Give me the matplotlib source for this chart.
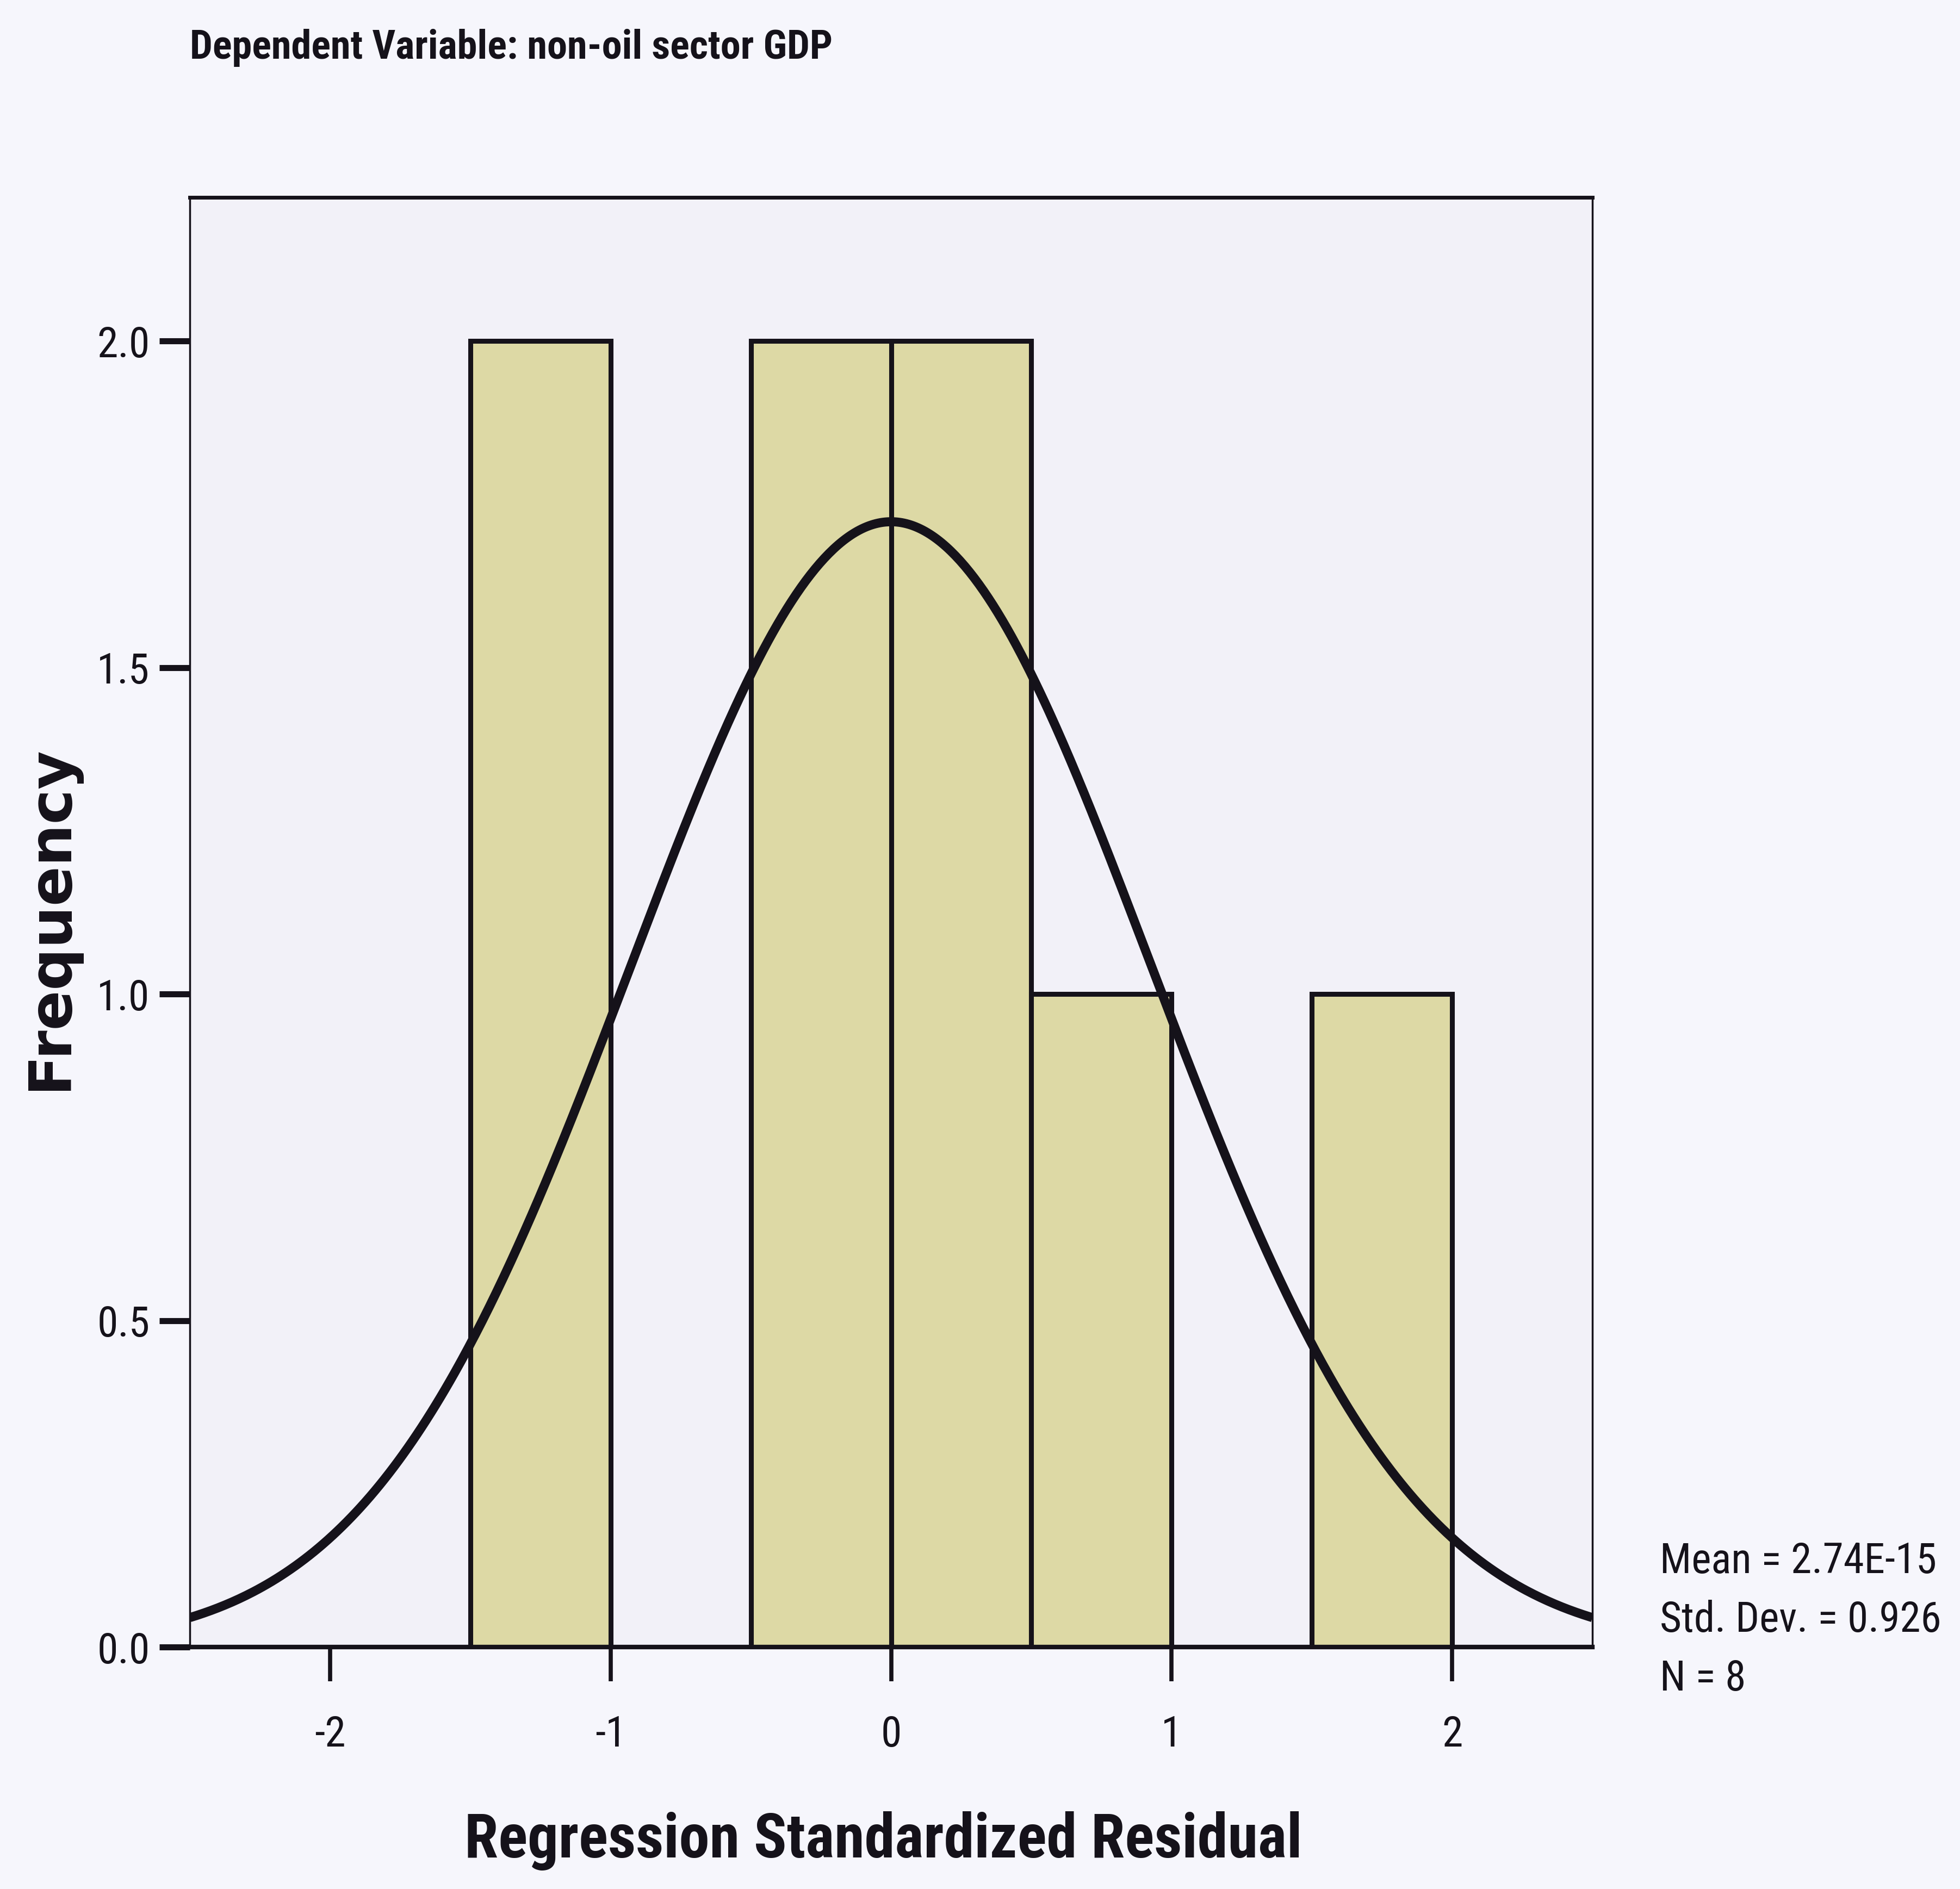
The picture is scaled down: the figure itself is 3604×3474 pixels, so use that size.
import numpy as np
import matplotlib
matplotlib.use("Agg")
import matplotlib.pyplot as plt
from matplotlib import font_manager as fm

# ---------------- data ----------------
bin_edges = [-1.5, -1.0, -0.5, 0.0, 0.5, 1.0, 1.5, 2.0]
counts = [2, 0, 2, 2, 1, 0, 1]
mean_val = 2.74e-15
std_val = 0.926
n_obs = 8
x_ticks = [-2, -1, 0, 1, 2]
x_tick_labels = ["-2", "-1", "0", "1", "2"]
y_ticks = [0.0, 0.5, 1.0, 1.5, 2.0]
y_tick_labels = ["0.0", "0.5", "1.0", "1.5", "2.0"]
title_text = "Dependent Variable: non-oil sector GDP"
x_label = "Regression Standardized Residual"
y_label = "Frequency"
stats_lines = ["Mean = 2.74E-15", "Std. Dev. = 0.926", "N = 8"]

# ---------------- fonts ----------------
names = {f.name for f in fm.fontManager.ttflist}
narrow_kw = None
for cand in ["Liberation Sans Narrow", "Arial Narrow", "Nimbus Sans Narrow",
             "Roboto Condensed", "Open Sans Condensed"]:
    if cand in names:
        narrow_kw = dict(family=cand)
        break
if narrow_kw is None:
    if any(f.name == "DejaVu Sans" and f.stretch == "condensed" for f in fm.fontManager.ttflist):
        narrow_kw = dict(family="DejaVu Sans", stretch="condensed")
    else:
        narrow_kw = dict(family="Liberation Sans")

W, H = 3604, 3474
fig = plt.figure(figsize=(W / 100, H / 100), dpi=100)
fig.patch.set_facecolor("#f6f6fc")

L, R, T, B = 349, 2928, 363, 3029
ax = fig.add_axes([L / W, 1 - B / H, (R - L) / W, (B - T) / H])
ax.set_facecolor("#f2f1f8")

ink = "#15121a"
bar_fill = "#ddd9a5"

# bars
lefts = [bin_edges[i] for i in range(len(counts)) if counts[i] > 0]
heights = [counts[i] for i in range(len(counts)) if counts[i] > 0]
widths = [bin_edges[i + 1] - bin_edges[i] for i in range(len(counts)) if counts[i] > 0]
ax.bar(lefts, heights, width=widths, align="edge", color=bar_fill,
       edgecolor=ink, linewidth=6.5, zorder=2)

# fitted normal curve
binw = bin_edges[1] - bin_edges[0]
xs = np.linspace(-2.5, 2.5, 600)
ys = n_obs * binw * np.exp(-0.5 * ((xs - mean_val) / std_val) ** 2) / (std_val * np.sqrt(2 * np.pi))
ax.plot(xs, ys, color=ink, linewidth=12, zorder=3, solid_capstyle="butt")

ax.set_xlim(-2.5, 2.5)
ax.set_ylim(0, 2.22)

for side, lw in [("left", 2.5), ("right", 2.5), ("top", 5), ("bottom", 6)]:
    ax.spines[side].set_linewidth(lw)
    ax.spines[side].set_color(ink)
    ax.spines[side].set_zorder(4)

ax.set_xticks(x_ticks)
ax.set_xticklabels(x_tick_labels, fontsize=56, color=ink, **narrow_kw)
ax.set_yticks(y_ticks)
ax.set_yticklabels(y_tick_labels, fontsize=56, color=ink, **narrow_kw)
ax.tick_params(axis="x", direction="out", length=45, width=5.5, pad=44, color=ink)
ax.tick_params(axis="y", direction="out", length=40, width=8, pad=13, color=ink)

# texts
fig.text(L / W, 1 - 108 / H, title_text, fontsize=53.5, fontweight="bold",
         color=ink, ha="left", va="baseline", **narrow_kw)
fig.text(1624 / W, 1 - 3416 / H, x_label, fontsize=81, fontweight="bold",
         color=ink, ha="center", va="baseline", **narrow_kw)
fig.text(39 / W, 1 - 1688 / H, y_label, fontsize=78, fontweight="bold",
         family="DejaVu Sans", color=ink, rotation=90, ha="left", va="center")

for i, line in enumerate(stats_lines):
    fig.text(3052 / W, 1 - (2893 + 108 * i) / H, line, fontsize=55.5,
             color=ink, ha="left", va="baseline", **narrow_kw)

fig.savefig("out.png", dpi=100, facecolor=fig.get_facecolor())
